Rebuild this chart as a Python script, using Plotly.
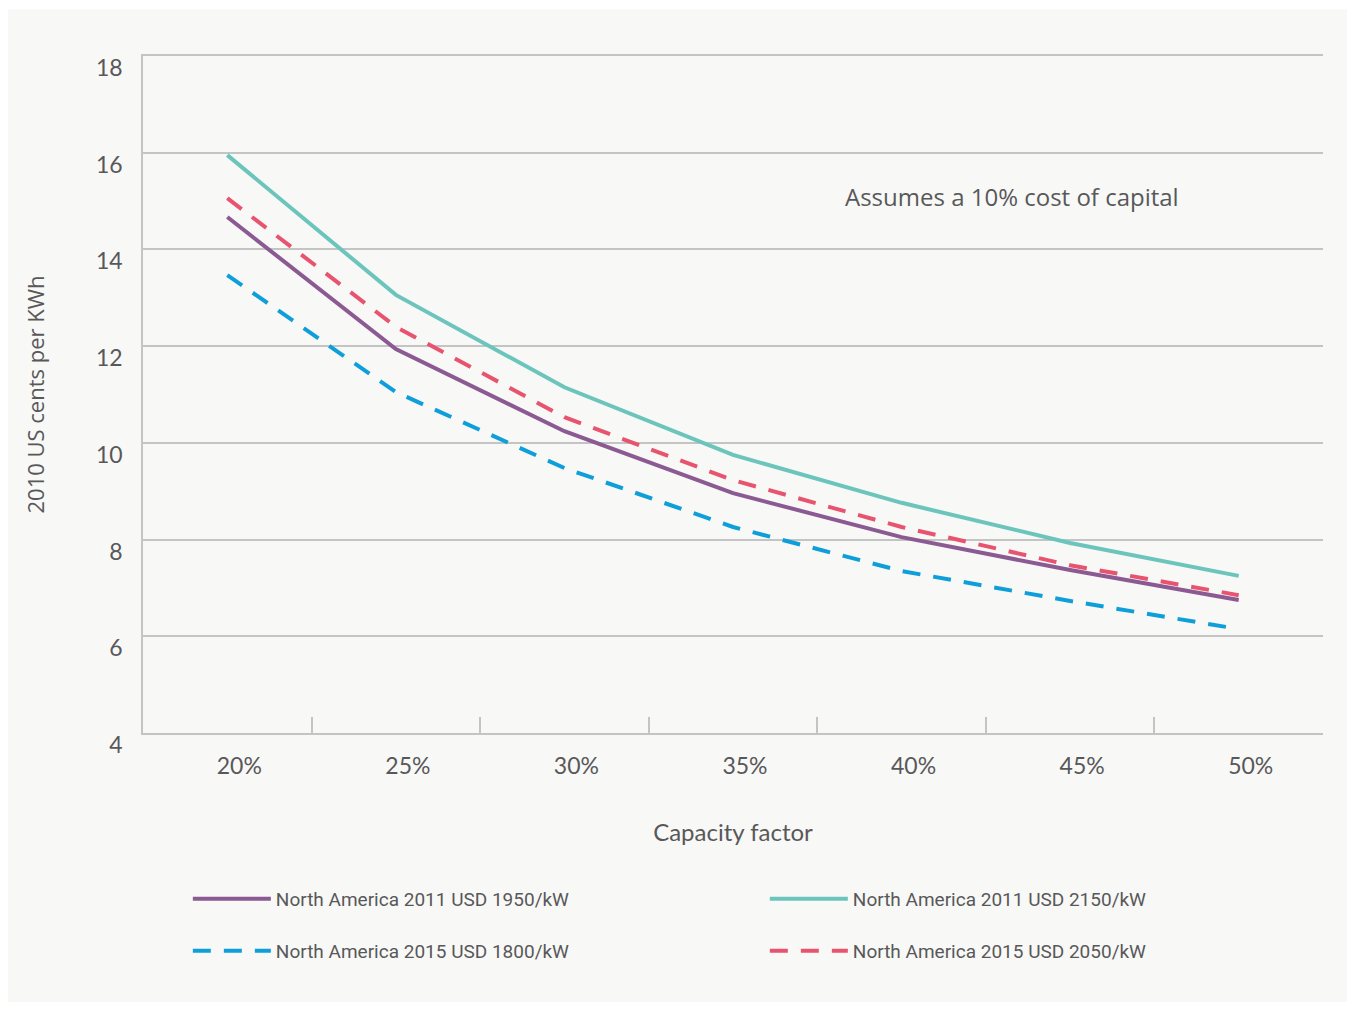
import plotly.graph_objects as go

categories = ["20%", "25%", "30%", "35%", "40%", "45%", "50%"]
na2011_1950 = [14.67, 11.94, 10.24, 8.96, 8.05, 7.37, 6.75]
na2011_2150 = [15.95, 13.06, 11.15, 9.75, 8.76, 7.93, 7.25]
na2015_1800 = [13.47, 11.05, 9.48, 8.26, 7.35, 6.73, 6.15]
na2015_2050 = [15.06, 12.40, 10.53, 9.23, 8.26, 7.47, 6.85]
y_ticks = [4, 6, 8, 10, 12, 14, 16, 18]

TXT = "#58585a"
GRID = "#c4c4c4"
FONT = "Lato, 'Open Sans', sans-serif"
LEGFONT = "Roboto, sans-serif"

fig = go.Figure()
fig.add_trace(go.Scatter(x=categories, y=na2011_1950, mode="lines", name="North America 2011 USD 1950/kW",
                         line=dict(color="#8b5a93", width=4), legend="legend"))
fig.add_trace(go.Scatter(x=categories, y=na2011_2150, mode="lines", name="North America 2011 USD 2150/kW",
                         line=dict(color="#6cc5bd", width=4), legend="legend"))
fig.add_trace(go.Scatter(x=categories, y=na2015_1800, mode="lines", name="North America 2015 USD 1800/kW",
                         line=dict(color="#0e9fdb", width=4, dash="18px,13px"), legend="legend2"))
fig.add_trace(go.Scatter(x=categories, y=na2015_2050, mode="lines", name="North America 2015 USD 2050/kW",
                         line=dict(color="#e8546f", width=4, dash="18px,13px"), legend="legend2"))

fig.add_shape(type="rect", xref="paper", yref="paper", x0=-0.116, x1=1.021, y0=-0.399, y1=1.069,
              fillcolor="#f8f8f6", line=dict(width=0), layer="below")

fig.add_annotation(text="Assumes a 10% cost of capital", xref="paper", yref="paper",
                   x=0.593, y=0.793, xanchor="left", yanchor="middle", showarrow=False,
                   font=dict(family="'Open Sans', sans-serif", size=24, color=TXT))

legend_common = dict(orientation="h", xanchor="left", yanchor="middle", entrywidth=484,
                     entrywidthmode="pixels", bgcolor="rgba(0,0,0,0)",
                     font=dict(family=LEGFONT, size=19, color=TXT), itemwidth=78)

fig.update_layout(
    width=1339, height=994,
    paper_bgcolor="white", plot_bgcolor="rgba(0,0,0,0)",
    margin=dict(l=135, r=24, t=48, b=269, autoexpand=False),
    showlegend=True,
    legend=dict(x=0.038, y=-0.245, **legend_common),
    legend2=dict(x=0.038, y=-0.322, **legend_common),
    xaxis=dict(type="category", categoryorder="array", categoryarray=categories, range=[-0.5, 6.5],
               tickson="boundaries", ticks="inside", ticklen=16, tickcolor=GRID, tickwidth=1.5,
               showline=True, mirror=True, linecolor=GRID, linewidth=1.5, showgrid=False, zeroline=False,
               tickfont=dict(family=FONT, size=23, color=TXT), ticklabelshift=12, ticklabelstandoff=12,
               automargin=False,
               title=dict(text="Capacity factor", font=dict(family=FONT, size=24, color=TXT), standoff=46)),
    yaxis=dict(range=[4, 18], tickvals=y_ticks, showgrid=True, gridcolor=GRID, gridwidth=1.5,
               showline=True, linecolor=GRID, linewidth=1.5, zeroline=False, ticks="",
               tickfont=dict(family=FONT, size=23, color=TXT), ticklabelshift=12, ticklabelstandoff=14,
               automargin=False,
               title=dict(text="2010 US cents per KWh", font=dict(family="'Open Sans', sans-serif", size=22, color=TXT), standoff=45)),
)

fig.write_html("out.html")
